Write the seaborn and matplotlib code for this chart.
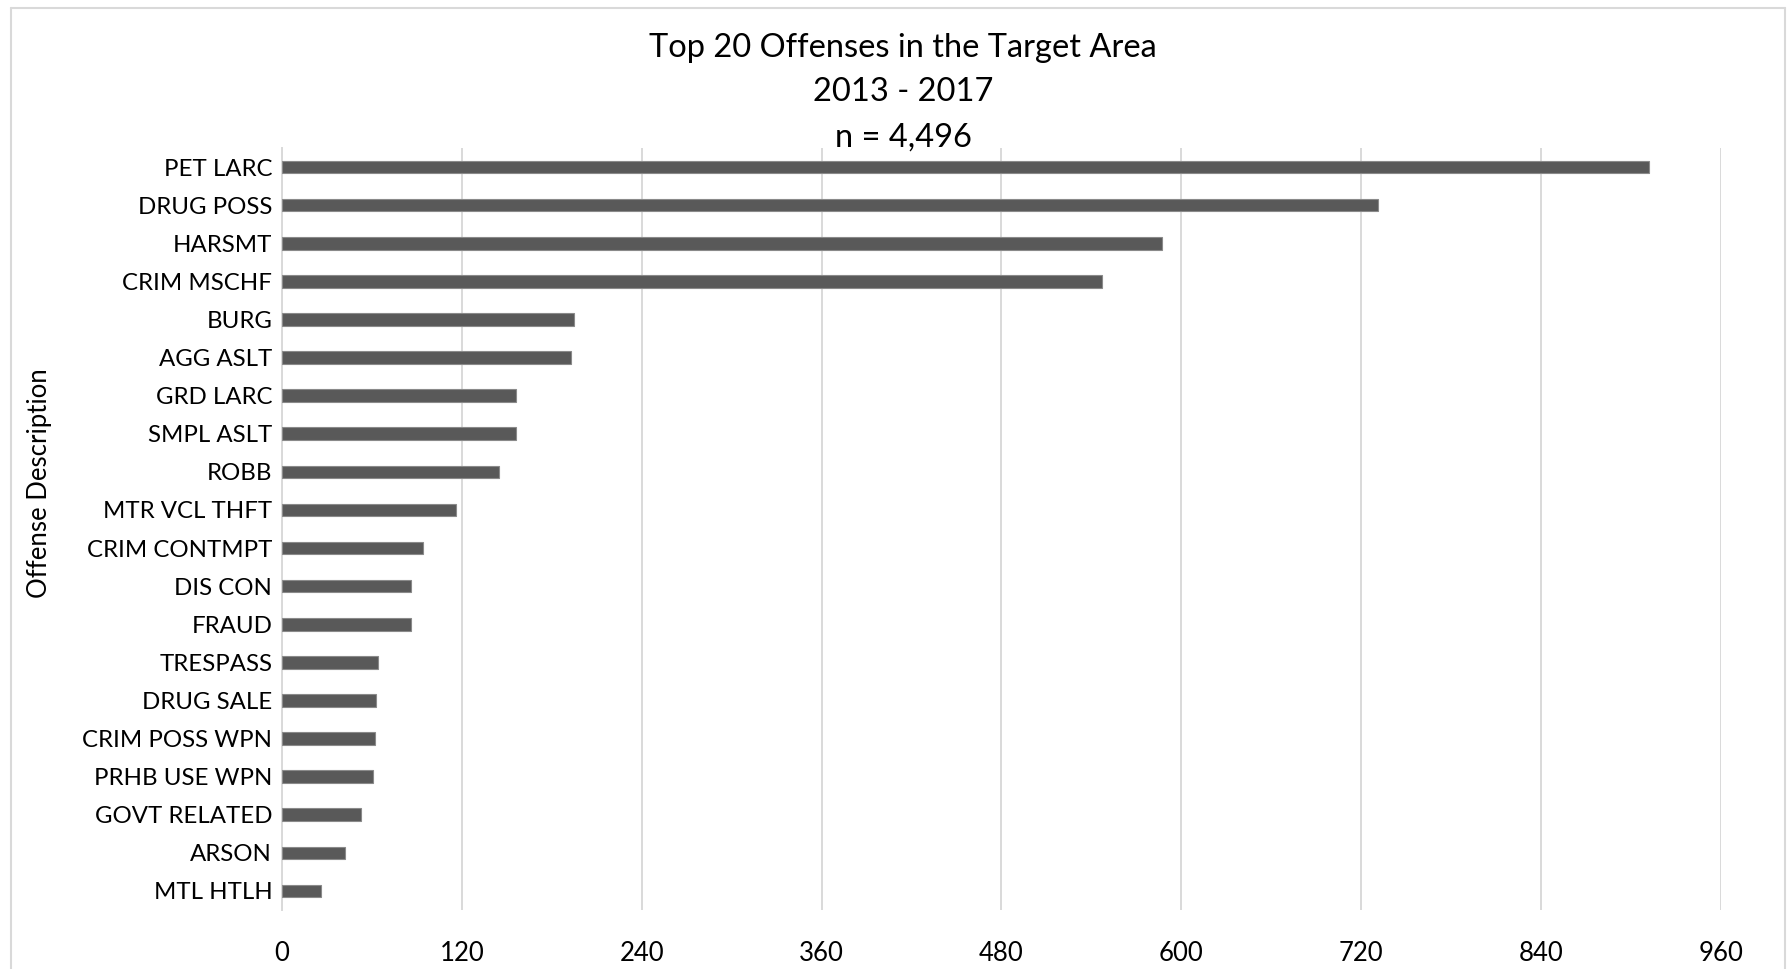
import matplotlib
matplotlib.use("Agg")
import matplotlib.pyplot as plt
import seaborn as sns
import pandas as pd
from matplotlib.lines import Line2D

# Offense counts, 2013-2017
offenses = [
    "PET LARC", "DRUG POSS", "HARSMT", "CRIM MSCHF", "BURG", "AGG ASLT",
    "GRD LARC", "SMPL ASLT", "ROBB", "MTR VCL THFT", "CRIM CONTMPT",
    "DIS CON", "FRAUD", "TRESPASS", "DRUG SALE", "CRIM POSS WPN",
    "PRHB USE WPN", "GOVT RELATED", "ARSON", "MTL HTLH",
]
counts = [912, 731, 587, 547, 195, 193, 156, 156, 145, 116, 94,
          86, 86, 64, 63, 62, 61, 53, 42, 26]
x_ticks = [0, 120, 240, 360, 480, 600, 720, 840, 960]
title_lines = ["Top 20 Offenses in the Target Area", "2013 - 2017", "n = 4,496"]

df = pd.DataFrame({"offense": offenses, "count": counts})

sns.set_theme(style="white")
plt.rcParams["font.family"] = ["Lato", "DejaVu Sans"]
text_color = "#000000"
grid_color = "#d9d9d9"

W, H = 1790, 969
fig = plt.figure(figsize=(W / 100, H / 100), dpi=100)
ax = fig.add_axes([282 / W, 1 - 910 / H, (1721 - 282) / W, (910 - 148) / H])

sns.barplot(data=df, x="count", y="offense", orient="h", color="#595959",
            width=0.333, edgecolor="#8a8a8a", linewidth=0.8, saturation=1,
            ax=ax, zorder=3)

ax.set_xlim(0, 960)
ax.set_ylim(len(offenses) - 0.5, -0.5)
ax.set_xticks(x_ticks)
ax.set_xticklabels([str(t) for t in x_ticks])
ax.xaxis.grid(True, color=grid_color, linewidth=1.4, zorder=0)
ax.yaxis.grid(False)
for side in ["top", "right", "bottom"]:
    ax.spines[side].set_visible(False)
ax.spines["left"].set_color(grid_color)
ax.spines["left"].set_linewidth(1.4)
ax.tick_params(axis="both", length=0, colors=text_color)
ax.tick_params(axis="x", pad=22, labelsize=18.5)
ax.tick_params(axis="y", pad=7, labelsize=17.3)
ax.set_xlabel("")
ax.set_ylabel("")

fig.text(40 / W, 1 - 483 / H, "Offense Description", rotation=90,
         ha="center", va="center", fontsize=18.5, color=text_color)

for yy, line in zip([48, 92, 138], title_lines):
    fig.text(903 / W, 1 - yy / H, line, ha="center", va="center",
             fontsize=23.5, color=text_color)

# chart-area border
bx0, bx1, by0 = 11 / W, 1785 / W, 1 - 8 / H
for xs, ys in [([bx0, bx0], [0, by0]), ([bx0, bx1], [by0, by0]), ([bx1, bx1], [by0, 0])]:
    fig.add_artist(Line2D(xs, ys, color=grid_color, linewidth=1.5,
                          transform=fig.transFigure))

fig.savefig("out.png", dpi=100, facecolor="white")
